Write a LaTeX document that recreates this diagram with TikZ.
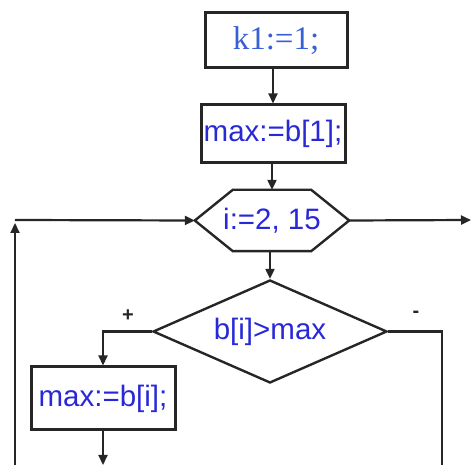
\documentclass[tikz,border=0pt]{standalone}
\usepackage{fontspec}
\setmainfont{Liberation Sans}
\newfontfamily\seriffont{Liberation Serif}
\usetikzlibrary{shapes.geometric,calc,arrows.meta}
\definecolor{txtblue}{RGB}{40,40,215}
\definecolor{serblue}{RGB}{55,95,215}
\tikzset{
  procbox/.style={draw=black!85, line width=3pt, rectangle, inner sep=0pt, text=txtblue, font=\fontsize{29.5}{29.5}\selectfont},
  hexbase/.style={rectangle, inner sep=0pt, text=txtblue, font=\fontsize{29.5}{29.5}\selectfont},
  decbox/.style={draw=black!85, line width=2.4pt, diamond, aspect=2.27, inner sep=0pt, text=txtblue, font=\fontsize{29.5}{29.5}\selectfont},
  conn/.style={draw=black!85, line width=2.2pt},
  arr/.style={conn, -{Triangle[length=10pt,width=9pt]}},
  sign/.style={font=\bfseries\fontsize{20}{20}\selectfont, text=black!85}
}
\begin{document}
\begin{tikzpicture}[x=1pt,y=-1pt]
\useasboundingbox (0,0) rectangle (472,465);
\node[procbox, minimum width=142pt, minimum height=55pt, text=serblue, font=\seriffont\fontsize{33}{33}\selectfont] (k1) at (276,40.5) {k1:=1;};
\node[procbox, minimum width=144pt, minimum height=58pt] (m1) at (273,134) {max:=b[1];};
\node[hexbase, minimum width=154pt, minimum height=61pt] (hex) at (272,220.5) {i:=2, 15};
\draw[draw=black!85, line width=2.4pt, line join=miter]
  ($(hex.north west)+(38,0)$) -- ($(hex.north east)+(-38,0)$) -- (hex.east)
  -- ($(hex.south east)+(-38,0)$) -- ($(hex.south west)+(38,0)$) -- (hex.west) -- cycle;
\node[decbox, minimum width=234pt, minimum height=103pt] (d) at (270,331.5) {b[i]>max};
\node[procbox, minimum width=144pt, minimum height=63pt] (m2) at (103,398.5) {max:=b[i];};
\node[sign] (plus) at (128,316) {+};
\node[sign] (minus) at (416,314) {-};
\coordinate (loopbot) at (15,465);
\coordinate (loopcorner) at (15,220);
\coordinate (exitend) at (471,220);
\coordinate (rightbot) at (442,465);
\coordinate (m2bot) at (103,465);
\draw[arr] (m1.north |- k1.south) -- (m1.north);
\draw[arr] (hex.north |- m1.south) -- (hex.north);
\draw[arr] (d.north |- hex.south) -- (d.north);
\draw[arr] (loopbot) -- ($(loopcorner)+(0,3)$);
\draw[arr] (loopcorner) -- (hex.west);
\draw[arr] (hex.east) -- (exitend);
\draw[conn] (d.east) -| (rightbot);
\draw[arr] (d.west) -| (m2.north);
\draw[arr] (m2.south) -- (m2bot);
\end{tikzpicture}
\end{document}
